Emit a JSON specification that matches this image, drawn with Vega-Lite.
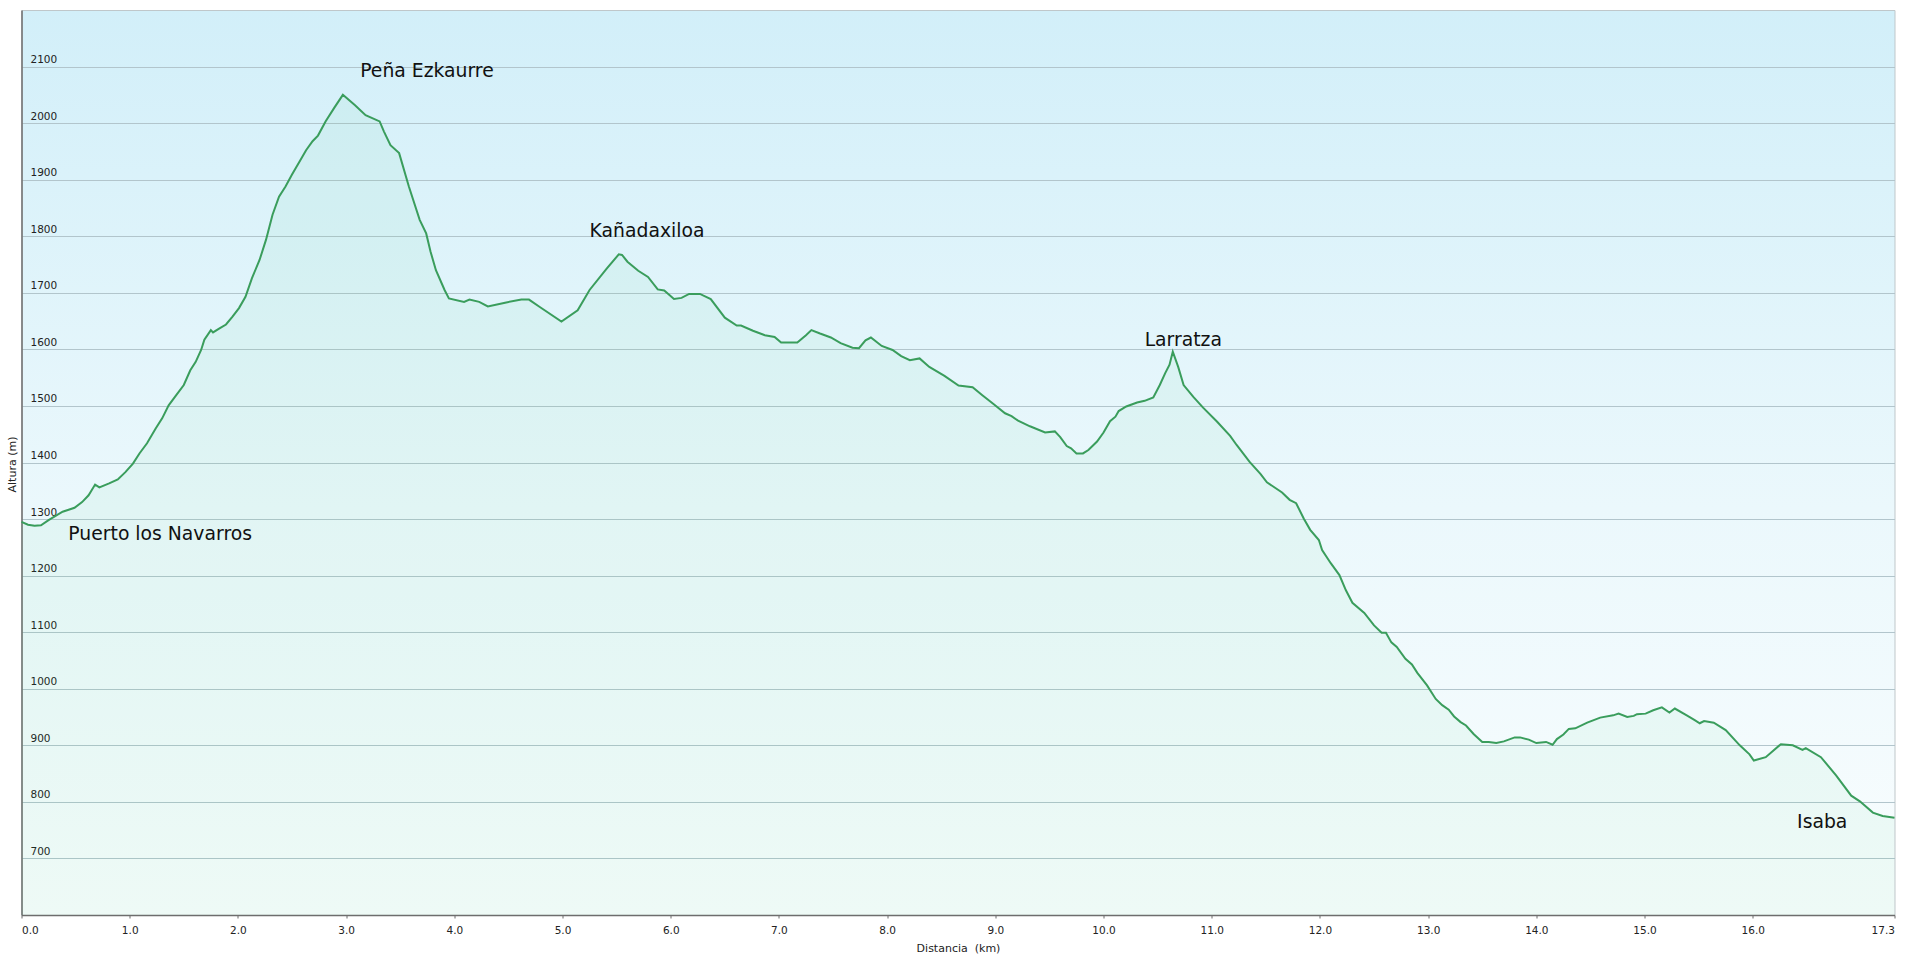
{
  "$schema": "https://vega.github.io/schema/vega-lite/v6.json",
  "width": 1873,
  "height": 905,
  "autosize": {"type": "none"},
  "padding": {"left": 21.5, "top": 10, "right": 10.5, "bottom": 44},
  "background": "#ffffff",
  "view": {
    "fill": {"gradient": "linear", "x1": 0, "y1": 0, "x2": 0, "y2": 1,
      "stops": [{"offset": 0, "color": "#d2eff9"}, {"offset": 0.55, "color": "#ebf8fc"}, {"offset": 1, "color": "#f9fdfe"}]},
    "stroke": "#bfc7ca",
    "strokeWidth": 1
  },
  "config": {"font": "DejaVu Sans"},
  "datasets": {
    "profile": [
      {"km": 0.00, "alt": 1295}, {"km": 0.06, "alt": 1290}, {"km": 0.12, "alt": 1288}, {"km": 0.18, "alt": 1289},
      {"km": 0.25, "alt": 1298}, {"km": 0.38, "alt": 1313}, {"km": 0.49, "alt": 1320}, {"km": 0.56, "alt": 1330},
      {"km": 0.62, "alt": 1342}, {"km": 0.68, "alt": 1361}, {"km": 0.72, "alt": 1356}, {"km": 0.81, "alt": 1363},
      {"km": 0.89, "alt": 1370}, {"km": 0.96, "alt": 1383}, {"km": 1.03, "alt": 1398}, {"km": 1.09, "alt": 1416},
      {"km": 1.16, "alt": 1434}, {"km": 1.24, "alt": 1460}, {"km": 1.30, "alt": 1478}, {"km": 1.36, "alt": 1501},
      {"km": 1.43, "alt": 1519}, {"km": 1.50, "alt": 1537}, {"km": 1.56, "alt": 1563}, {"km": 1.61, "alt": 1578},
      {"km": 1.66, "alt": 1599}, {"km": 1.69, "alt": 1617}, {"km": 1.75, "alt": 1634}, {"km": 1.77, "alt": 1630},
      {"km": 1.83, "alt": 1637}, {"km": 1.89, "alt": 1644}, {"km": 1.95, "alt": 1658}, {"km": 2.01, "alt": 1673},
      {"km": 2.07, "alt": 1693}, {"km": 2.13, "alt": 1726}, {"km": 2.20, "alt": 1758}, {"km": 2.26, "alt": 1794},
      {"km": 2.32, "alt": 1838}, {"km": 2.38, "alt": 1870}, {"km": 2.44, "alt": 1888}, {"km": 2.50, "alt": 1909},
      {"km": 2.57, "alt": 1932}, {"km": 2.63, "alt": 1952}, {"km": 2.69, "alt": 1968}, {"km": 2.74, "alt": 1978},
      {"km": 2.81, "alt": 2003}, {"km": 2.89, "alt": 2027}, {"km": 2.97, "alt": 2050}, {"km": 3.08, "alt": 2032},
      {"km": 3.18, "alt": 2014}, {"km": 3.31, "alt": 2003}, {"km": 3.35, "alt": 1985}, {"km": 3.41, "alt": 1961},
      {"km": 3.49, "alt": 1947}, {"km": 3.58, "alt": 1888}, {"km": 3.68, "alt": 1829}, {"km": 3.74, "alt": 1805},
      {"km": 3.78, "alt": 1773}, {"km": 3.83, "alt": 1740}, {"km": 3.91, "alt": 1705}, {"km": 3.95, "alt": 1690},
      {"km": 4.09, "alt": 1684}, {"km": 4.14, "alt": 1688}, {"km": 4.23, "alt": 1684}, {"km": 4.31, "alt": 1676},
      {"km": 4.48, "alt": 1683}, {"km": 4.62, "alt": 1688}, {"km": 4.69, "alt": 1688}, {"km": 4.79, "alt": 1675},
      {"km": 4.99, "alt": 1649}, {"km": 5.14, "alt": 1669}, {"km": 5.25, "alt": 1705}, {"km": 5.41, "alt": 1743},
      {"km": 5.52, "alt": 1768}, {"km": 5.55, "alt": 1767}, {"km": 5.60, "alt": 1755}, {"km": 5.70, "alt": 1739},
      {"km": 5.79, "alt": 1728}, {"km": 5.88, "alt": 1706}, {"km": 5.94, "alt": 1704}, {"km": 6.03, "alt": 1689},
      {"km": 6.10, "alt": 1691}, {"km": 6.17, "alt": 1698}, {"km": 6.27, "alt": 1698}, {"km": 6.37, "alt": 1689},
      {"km": 6.50, "alt": 1656}, {"km": 6.61, "alt": 1642}, {"km": 6.65, "alt": 1642}, {"km": 6.76, "alt": 1633},
      {"km": 6.87, "alt": 1625}, {"km": 6.96, "alt": 1622}, {"km": 7.02, "alt": 1612}, {"km": 7.17, "alt": 1612},
      {"km": 7.25, "alt": 1625}, {"km": 7.30, "alt": 1634}, {"km": 7.38, "alt": 1628}, {"km": 7.48, "alt": 1621},
      {"km": 7.57, "alt": 1611}, {"km": 7.68, "alt": 1603}, {"km": 7.74, "alt": 1602}, {"km": 7.80, "alt": 1616},
      {"km": 7.85, "alt": 1621}, {"km": 7.95, "alt": 1606}, {"km": 8.05, "alt": 1599}, {"km": 8.13, "alt": 1588},
      {"km": 8.21, "alt": 1581}, {"km": 8.30, "alt": 1584}, {"km": 8.39, "alt": 1569}, {"km": 8.53, "alt": 1553},
      {"km": 8.66, "alt": 1536}, {"km": 8.79, "alt": 1533}, {"km": 8.88, "alt": 1519}, {"km": 8.98, "alt": 1504},
      {"km": 9.09, "alt": 1487}, {"km": 9.15, "alt": 1482}, {"km": 9.21, "alt": 1474}, {"km": 9.32, "alt": 1464},
      {"km": 9.46, "alt": 1453}, {"km": 9.55, "alt": 1455}, {"km": 9.60, "alt": 1445}, {"km": 9.66, "alt": 1429},
      {"km": 9.70, "alt": 1425}, {"km": 9.75, "alt": 1416}, {"km": 9.81, "alt": 1416}, {"km": 9.86, "alt": 1422},
      {"km": 9.94, "alt": 1437}, {"km": 10.00, "alt": 1453}, {"km": 10.06, "alt": 1473}, {"km": 10.11, "alt": 1481},
      {"km": 10.14, "alt": 1491}, {"km": 10.21, "alt": 1499}, {"km": 10.31, "alt": 1506}, {"km": 10.38, "alt": 1509},
      {"km": 10.46, "alt": 1515}, {"km": 10.52, "alt": 1537}, {"km": 10.57, "alt": 1558}, {"km": 10.61, "alt": 1573},
      {"km": 10.64, "alt": 1596}, {"km": 10.69, "alt": 1569}, {"km": 10.74, "alt": 1537}, {"km": 10.83, "alt": 1516},
      {"km": 10.92, "alt": 1497}, {"km": 11.05, "alt": 1472}, {"km": 11.17, "alt": 1447}, {"km": 11.23, "alt": 1431},
      {"km": 11.35, "alt": 1401}, {"km": 11.45, "alt": 1380}, {"km": 11.51, "alt": 1365}, {"km": 11.65, "alt": 1347},
      {"km": 11.72, "alt": 1334}, {"km": 11.78, "alt": 1328}, {"km": 11.85, "alt": 1301}, {"km": 11.91, "alt": 1281},
      {"km": 11.99, "alt": 1263}, {"km": 12.02, "alt": 1245}, {"km": 12.10, "alt": 1222}, {"km": 12.18, "alt": 1201},
      {"km": 12.24, "alt": 1174}, {"km": 12.30, "alt": 1152}, {"km": 12.41, "alt": 1134}, {"km": 12.50, "alt": 1112},
      {"km": 12.57, "alt": 1099}, {"km": 12.61, "alt": 1099}, {"km": 12.66, "alt": 1082}, {"km": 12.71, "alt": 1074},
      {"km": 12.79, "alt": 1053}, {"km": 12.85, "alt": 1043}, {"km": 12.90, "alt": 1028}, {"km": 12.99, "alt": 1006},
      {"km": 13.07, "alt": 982}, {"km": 13.13, "alt": 971}, {"km": 13.19, "alt": 963}, {"km": 13.24, "alt": 951},
      {"km": 13.30, "alt": 941}, {"km": 13.35, "alt": 935}, {"km": 13.42, "alt": 920}, {"km": 13.50, "alt": 906},
      {"km": 13.56, "alt": 906}, {"km": 13.63, "alt": 904}, {"km": 13.70, "alt": 907}, {"km": 13.80, "alt": 914},
      {"km": 13.85, "alt": 914}, {"km": 13.93, "alt": 910}, {"km": 14.00, "alt": 904}, {"km": 14.09, "alt": 906},
      {"km": 14.15, "alt": 901}, {"km": 14.19, "alt": 911}, {"km": 14.25, "alt": 919}, {"km": 14.30, "alt": 929},
      {"km": 14.36, "alt": 930}, {"km": 14.47, "alt": 940}, {"km": 14.59, "alt": 949}, {"km": 14.71, "alt": 953},
      {"km": 14.76, "alt": 956}, {"km": 14.84, "alt": 950}, {"km": 14.90, "alt": 952}, {"km": 14.93, "alt": 955},
      {"km": 15.01, "alt": 956}, {"km": 15.08, "alt": 962}, {"km": 15.16, "alt": 967}, {"km": 15.23, "alt": 958},
      {"km": 15.28, "alt": 965}, {"km": 15.39, "alt": 953}, {"km": 15.46, "alt": 945}, {"km": 15.51, "alt": 939},
      {"km": 15.55, "alt": 943}, {"km": 15.64, "alt": 940}, {"km": 15.75, "alt": 927}, {"km": 15.88, "alt": 900},
      {"km": 15.97, "alt": 884}, {"km": 16.01, "alt": 873}, {"km": 16.12, "alt": 879}, {"km": 16.26, "alt": 902},
      {"km": 16.37, "alt": 900}, {"km": 16.46, "alt": 892}, {"km": 16.49, "alt": 895}, {"km": 16.63, "alt": 879},
      {"km": 16.77, "alt": 847}, {"km": 16.91, "alt": 811}, {"km": 16.99, "alt": 801}, {"km": 17.11, "alt": 781},
      {"km": 17.20, "alt": 775}, {"km": 17.31, "alt": 772}
    ],
    "labels": [
      {"name": "Peña Ezkaurre", "km": 3.13, "alt": 2082},
      {"name": "Kañadaxiloa", "km": 5.25, "alt": 1799},
      {"name": "Larratza", "km": 10.38, "alt": 1606},
      {"name": "Puerto los Navarros", "km": 0.433, "alt": 1263},
      {"name": "Isaba", "km": 16.41, "alt": 754}
    ]
  },
  "encoding": {
    "x": {
      "field": "km", "type": "quantitative",
      "scale": {"domain": [0, 17.31], "nice": false, "zero": false},
      "axis": {
        "values": [0, 1, 2, 3, 4, 5, 6, 7, 8, 9, 10, 11, 12, 13, 14, 15, 16, 17.31],
        "format": ".1f", "labelFlush": true, "labelOverlap": false, "grid": false,
        "domainColor": "#6d6d6d", "domainWidth": 1.5, "tickColor": "#6d6d6d", "tickSize": 3, "tickWidth": 1,
        "labelPadding": 7, "labelFontSize": 10.5, "labelColor": "#222222", "labelBaseline": "top",
        "title": "Distancia\u00a0 (km)", "titleFontSize": 11, "titleFontWeight": "normal", "titleColor": "#222222",
        "titleY": 36.5, "titleBaseline": "alphabetic"
      }
    },
    "y": {
      "field": "alt", "type": "quantitative",
      "scale": {"domain": [600, 2200], "nice": false, "zero": false},
      "axis": {
        "values": [700, 800, 900, 1000, 1100, 1200, 1300, 1400, 1500, 1600, 1700, 1800, 1900, 2000, 2100],
        "format": "d",
        "grid": true, "gridColor": "#b2c5cc", "gridWidth": 1, "ticks": false, "tickSize": 0,
        "domainColor": "#6d6d6d", "domainWidth": 1.5,
        "labelAlign": "left", "labelPadding": -8.5, "labelBaseline": "alphabetic", "labelOffset": -4,
        "labelFontSize": 10.5, "labelColor": "#222222", "labelOverlap": false,
        "title": "Altura (m)", "titleFontSize": 11, "titleFontWeight": "normal", "titleColor": "#222222",
        "titleX": -9.5, "titleY": 454, "titleAngle": -90, "titleAlign": "center", "titleBaseline": "middle"
      }
    }
  },
  "layer": [
    {
      "data": {"name": "profile"},
      "mark": {"type": "area", "fill": "#2fc46a", "fillOpacity": 0.055},
      "encoding": {"y2": {"datum": 600}}
    },
    {
      "data": {"name": "profile"},
      "mark": {"type": "line", "stroke": "#3a9d5c", "strokeWidth": 2}
    },
    {
      "data": {"name": "labels"},
      "mark": {"type": "text", "align": "left", "baseline": "alphabetic", "font": "DejaVu Sans", "fontSize": 18.8, "color": "#111111"},
      "encoding": {"text": {"field": "name"}}
    }
  ]
}
